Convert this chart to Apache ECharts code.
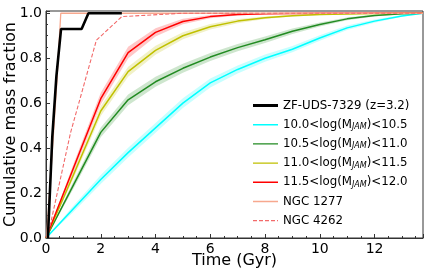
<!DOCTYPE html>
<html><head><meta charset="utf-8">
<script src="https://cdn.jsdelivr.net/npm/echarts@6/dist/echarts.min.js"></script>
<style>html,body{margin:0;padding:0;background:#fff}#c{width:436px;height:273px}</style>
</head><body><div id="c"></div>
<script>
// Time grid (Gyr) for the mass-bin curves
const timeGrid = [0, 1, 2, 3, 4, 5, 6, 7, 8, 9, 10, 11, 12, 13, 13.77];
// Median cumulative mass fraction per mass bin
const bin100 = [0, 0.13, 0.26, 0.38, 0.49, 0.60, 0.69, 0.75, 0.80, 0.84, 0.89, 0.935, 0.965, 0.988, 1.0];
const bin105 = [0, 0.235, 0.47, 0.615, 0.695, 0.755, 0.805, 0.847, 0.882, 0.92, 0.95, 0.975, 0.99, 0.998, 1.0];
const bin110 = [0, 0.28, 0.565, 0.74, 0.835, 0.90, 0.94, 0.965, 0.98, 0.989, 0.994, 0.997, 0.999, 1.0, 1.0];
const bin115 = [0, 0.31, 0.62, 0.825, 0.915, 0.963, 0.985, 0.994, 0.998, 0.999, 1.0, 1.0, 1.0, 1.0, 1.0];
// Half-width of the shaded uncertainty band per bin
const band100 = [0, 0.014, 0.02, 0.022, 0.022, 0.022, 0.02, 0.018, 0.016, 0.014, 0.012, 0.01, 0.007, 0.004, 0];
const band105 = [0, 0.016, 0.022, 0.024, 0.022, 0.02, 0.018, 0.016, 0.014, 0.012, 0.009, 0.006, 0.004, 0.002, 0];
const band110 = [0, 0.016, 0.022, 0.022, 0.02, 0.016, 0.012, 0.009, 0.006, 0.004, 0.003, 0.002, 0.001, 0, 0];
const band115 = [0, 0.018, 0.026, 0.026, 0.018, 0.012, 0.007, 0.004, 0.002, 0.001, 0, 0, 0, 0, 0];
// ZF-UDS-7329
const zfTime = [0.07, 0.23, 0.38, 0.55, 1.3, 1.55, 2.77];
const zfFrac = [0, 0.45, 0.72, 0.93, 0.93, 1.0, 1.0];
// NGC 1277
const n1277Time = [0.02, 0.4, 0.54, 13.77];
const n1277Frac = [0, 0.7, 1.0, 1.0];
// NGC 4262
const n4262Time = [0.05, 0.9, 1.84, 2.77, 5.0, 13.77];
const n4262Frac = [0, 0.47, 0.88, 0.985, 1.0, 1.0];
// Axis ticks
const xTicks = [0, 2, 4, 6, 8, 10, 12];
const yTicks = [0.0, 0.2, 0.4, 0.6, 0.8, 1.0];

const names = {
  zf: 'ZF-UDS-7329 (z=3.2)',
  b100: '10.0<log(M_JAM)<10.5',
  b105: '10.5<log(M_JAM)<11.0',
  b110: '11.0<log(M_JAM)<11.5',
  b115: '11.5<log(M_JAM)<12.0',
  n1277: 'NGC 1277',
  n4262: 'NGC 4262'
};
const colors = { zf: '#000000', b100: '#00ffff', b105: '#228b22', b110: '#c0c000', b115: '#ff0000', n1277: '#f7a88e', n4262: '#f26a6a' };

const pair = (xs, ys) => xs.map((x, i) => [x, ys[i]]);
const series = [];
function addBand(key, med, hw) {
  const rows = timeGrid.map((t, i) => [t, med[i] - hw[i], med[i] + hw[i]]);
  series.push({
    type: 'custom', name: key + '_band', silent: true, z: 1,
    data: rows,
    encode: { x: 0, y: [1, 2] },
    renderItem: function (params, api) {
      if (params.dataIndex !== 0) return null;
      const pts = [];
      rows.forEach(r => pts.push(api.coord([r[0], r[2]])));
      for (let i = rows.length - 1; i >= 0; i--) pts.push(api.coord([rows[i][0], rows[i][1]]));
      return { type: 'polygon', shape: { points: pts }, style: { fill: colors[key], opacity: 0.22 } };
    }
  });
}
addBand('b100', bin100, band100);
addBand('b105', bin105, band105);
addBand('b110', bin110, band110);
addBand('b115', bin115, band115);
function addLine(key, data, width, type, z) {
  series.push({ type: 'line', name: names[key], data: data, symbol: 'none', showSymbol: false, z: z || 3,
    lineStyle: { color: colors[key], width: width, type: type || 'solid' }, itemStyle: { color: colors[key] } });
}
addLine('b100', pair(timeGrid, bin100), 1.5);
addLine('b105', pair(timeGrid, bin105), 1.5);
addLine('b110', pair(timeGrid, bin110), 1.5);
addLine('b115', pair(timeGrid, bin115), 1.5);
addLine('n1277', pair(n1277Time, n1277Frac), 1.3);
addLine('n4262', pair(n4262Time, n4262Frac), 1.1, [4, 2]);
addLine('zf', pair(zfTime, zfFrac), 2.6, 'solid', 4);

// legend icons: bounding dots at corners keep the 25x14 box, bar in the middle
const box = 'M0,0h0.01v0.01h-0.01z M25,14h-0.01v-0.01h0.01z ';
const thick = 'path://' + box + 'M0,5.6h25v2.8h-25z';
const thin = 'path://' + box + 'M0,6.3h25v1.4h-25z';
const dashed = 'path://' + box + 'M0,6.4h4v1.2h-4z M6,6.4h4v1.2h-4z M12,6.4h4v1.2h-4z M18,6.4h4v1.2h-4z M24,6.4h1v1.2h-1z';

const chart = echarts.init(document.getElementById('c'), null, { renderer: 'canvas' });
const font = 'DejaVu Sans';
chart.setOption({
  animation: false,
  backgroundColor: '#fff',
  grid: { left: 46, right: 13, top: 11, bottom: 35, outerBoundsMode: 'none', containLabel: false,
    show: true, borderColor: '#333', borderWidth: 1, backgroundColor: 'transparent' },
  xAxis: {
    type: 'value', min: 0, max: 13.77, interval: 2,
    name: 'Time (Gyr)', nameLocation: 'middle', nameGap: 15, nameMoveOverlap: false,
    nameTextStyle: { fontFamily: font, fontSize: 16, color: '#000', verticalAlign: 'top' },
    axisLine: { show: true, lineStyle: { color: '#333', width: 1 } },
    axisTick: { show: true, inside: true, length: 4, lineStyle: { color: '#333' } },
    minorTick: { show: true, splitNumber: 4, length: 2, lineStyle: { color: '#333' } },
    splitLine: { show: false },
    axisLabel: { fontFamily: font, fontSize: 14, color: '#000', margin: 4, showMaxLabel: false,
      formatter: v => xTicks.indexOf(v) >= 0 ? String(v) : '' }
  },
  yAxis: {
    type: 'value', min: 0, max: 1.01, interval: 0.2,
    name: 'Cumulative mass fraction', nameLocation: 'middle', nameGap: 27, nameMoveOverlap: false,
    nameTextStyle: { fontFamily: font, fontSize: 16, color: '#000' },
    axisLine: { show: true, lineStyle: { color: '#333', width: 1 } },
    axisTick: { show: true, inside: true, length: 4, lineStyle: { color: '#333' } },
    minorTick: { show: true, splitNumber: 4, length: 2, lineStyle: { color: '#333' } },
    splitLine: { show: false },
    axisLabel: { fontFamily: font, fontSize: 14, color: '#000', margin: 4, showMaxLabel: false,
      formatter: v => { const m = yTicks.find(t => Math.abs(t - v) < 1e-6); return m === undefined ? '' : m.toFixed(1); } }
  },
  legend: {
    show: true, orient: 'vertical', left: 248, top: 93.5, itemWidth: 25, itemHeight: 14, itemGap: 5.2,
    data: [
      { name: names.zf, icon: thick },
      { name: names.b100, icon: thin },
      { name: names.b105, icon: thin },
      { name: names.b110, icon: thin },
      { name: names.b115, icon: thin },
      { name: names.n1277, icon: thin },
      { name: names.n4262, icon: dashed }
    ],
    formatter: n => n.replace('M_JAM', 'M{s|JAM}'),
    textStyle: { fontFamily: font, fontSize: 11.8, color: '#000',
      rich: { s: { fontFamily: font, fontSize: 8, fontStyle: 'italic', color: '#000', padding: [5, 0, 0, 0] } } }
  },
  series: series
});
</script></body></html>
